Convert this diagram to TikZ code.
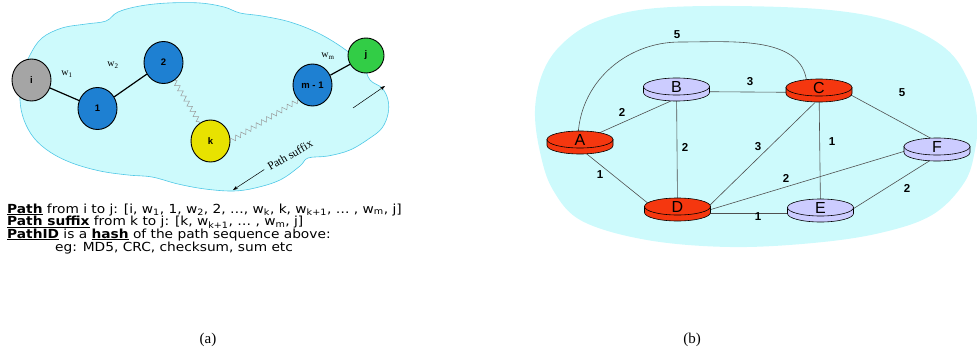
\documentclass[tikz,border=0pt]{standalone}
\usepackage{fontspec}
\setmainfont{Liberation Serif}
\setsansfont{Liberation Sans}
\newfontfamily\notefamily{DejaVu Sans}
\usetikzlibrary{shapes.geometric,decorations.pathmorphing,arrows.meta}

\pgfdeclarelayer{cloudlayer}
\pgfdeclarelayer{linklayer}
\pgfsetlayers{cloudlayer,linklayer,main}

\definecolor{cloudfill}{RGB}{205,250,252}
\definecolor{cloudline}{RGB}{80,200,230}
\definecolor{hopblue}{RGB}{30,128,210}
\definecolor{srcgray}{RGB}{165,165,165}
\definecolor{midyellow}{RGB}{232,226,0}
\definecolor{dstgreen}{RGB}{50,205,70}
\definecolor{rtred}{RGB}{245,55,15}
\definecolor{rtlav}{RGB}{204,204,255}
\definecolor{linkgray}{RGB}{80,80,80}

% router drawn as a flat cylinder: side band first, then the top disc as the node
\newcommand{\router}[5]{%
  \path[fill=#4, draw=black, line width=0.6pt]
    ({#2-33},{#3}) -- ({#2-33},{#3+6})
    arc[start angle=180, end angle=0, x radius=33, y radius=8.5]
    -- ({#2+33},{#3}) -- cycle;
  \node[rtop, fill=#4] (#1) at (#2,#3) {#5};
}
% widened note text
\newcommand{\widetext}[1]{\scalebox{1.1}[1]{#1}}

\begin{document}
\begin{tikzpicture}[x=1pt,y=-1pt,
  hop/.style={ellipse, draw=black, line width=0.9pt, minimum width=39pt,
    minimum height=42pt, inner sep=0pt, font=\sffamily\bfseries\fontsize{9.5}{9.5}\selectfont},
  hoplink/.style={line width=1.2pt, black},
  wavy/.style={decorate, decoration={zigzag, segment length=6pt, amplitude=2.4pt},
    gray!80, line width=0.5pt},
  wlabel/.style={font=\rmfamily\fontsize{10}{10}\selectfont, inner sep=0pt},
  thinarrow/.style={line width=0.5pt, -{Stealth[length=5pt,width=3.5pt]}},
  note/.style={font=\notefamily\fontsize{12.5}{12.5}\selectfont, inner sep=0pt, anchor=base west},
  rtop/.style={ellipse, draw=black, line width=0.6pt, minimum width=66pt,
    minimum height=17pt, inner sep=0pt, font=\sffamily\fontsize{16}{16}\selectfont},
  link/.style={linkgray, line width=0.6pt},
  cost/.style={font=\sffamily\bfseries\fontsize{11.5}{11.5}\selectfont, inner sep=0pt},
  caption/.style={font=\rmfamily\fontsize{15}{15}\selectfont, inner sep=0pt}]

\useasboundingbox (0,0) rectangle (977,356);

% ---------- (a) path through a cloud ----------
\begin{pgfonlayer}{cloudlayer}
\filldraw[fill=cloudfill, draw=cloudline, line width=0.6pt]
  plot[smooth cycle, tension=0.6] coordinates {
   (20,100) (22,76) (30,55) (42,38) (62,28) (86,24) (106,21) (118,12)
   (140,6) (168,3) (200,3) (224,7) (240,13) (262,16) (290,22) (318,33)
   (343,48) (362,64) (370,80) (382,88) (388,100) (388,114) (382,128)
   (370,138) (350,150) (328,156) (308,158) (300,166) (280,180) (255,188)
   (233,191) (205,189) (178,184) (152,177) (128,175) (100,171) (72,163)
   (50,152) (34,138) (24,120)};
\end{pgfonlayer}

\node[hop, fill=srcgray] (ni) at (31.5,80) {i};
\node[hop, fill=hopblue] (n1) at (97.5,108.5) {1};
\node[hop, fill=hopblue] (n2) at (163.5,62.5) {2};
\node[hop, fill=midyellow] (nk) at (210.5,141) {k};
\node[hop, fill=hopblue] (nm) at (312.5,85) {m - 1};
\node[hop, fill=dstgreen, minimum width=36pt, minimum height=35pt] (nj) at (366,55.5) {j};

\draw[hoplink] (ni) -- (n1);
\draw[hoplink] (n1) -- (n2);
\draw[hoplink] (nm) -- (nj);
\draw[wavy] (n2) -- (nk);
\draw[wavy] (nk.east) -- (nm.south west);

\node[wlabel] (w1) at (67,74) {w\textsubscript{1}};
\node[wlabel] (w2) at (113,65) {w\textsubscript{2}};
\node[wlabel] (wm) at (328,56) {w\textsubscript{m}};

\coordinate (up0) at (353,108);
\coordinate (up1) at (385,86);
\draw[thinarrow] (up0) -- (up1);

\node[font=\rmfamily\fontsize{11.5}{11.5}\selectfont, rotate=30, inner sep=0pt] (sfx) at (290,155) {Path suffix};
\coordinate (sfxend) at (233,190);
\draw[thinarrow] ([xshift=-4pt,yshift=-2pt]sfx.west) -- (sfxend);

\node[note] (l1) at (7,213) {\widetext{\underline{\textbf{Path}} from i to j: [i, w\textsubscript{1}, 1, w\textsubscript{2}, 2, …, w\textsubscript{k}, k, w\textsubscript{k+1}, … , w\textsubscript{m}, j]}};
\node[note] (l2) at (7,225.5) {\widetext{\underline{\textbf{Path suffix}} from k to j: [k, w\textsubscript{k+1}, … , w\textsubscript{m}, j]}};
\node[note] (l3) at (7,238) {\widetext{\underline{\textbf{PathID}} is a \underline{\textbf{hash}} of the path sequence above:}};
\node[note] (l4) at (55,251) {\widetext{eg: MD5, CRC, checksum, sum etc}};

\node[caption] (capa) at (208,340) {(a)};

% ---------- (b) weighted router graph ----------
\begin{pgfonlayer}{cloudlayer}
\fill[cloudfill] plot[smooth cycle, tension=0.6] coordinates {
   (535,110) (543,72) (562,44) (595,22) (647,9) (730,6) (830,10) (897,23)
   (945,48) (968,80) (977,117) (975,150) (964,183) (932,215) (880,233)
   (813,243) (730,247) (647,240) (582,221) (553,190) (540,152)};
\end{pgfonlayer}

\router{A}{580}{139.5}{rtred}{A}
\router{B}{676.5}{86.5}{rtlav}{B}
\router{C}{819}{87.5}{rtred}{C}
\router{D}{677.5}{206.5}{rtred}{D}
\router{E}{820.5}{207.5}{rtlav}{E}
\router{F}{937}{146.5}{rtlav}{F}

\coordinate (acTop) at (680,42);
\begin{pgfonlayer}{linklayer}
  \draw[link] ([xshift=-2pt]A.center) to[out=90,in=180] (acTop)
              to[out=0,in=90] ([xshift=-12pt]C.center);
  \draw[link] ([yshift=-2pt]A.center) -- ([yshift=-12pt]B.center);
  \draw[link] ([yshift=-5pt]B.center) -- ([yshift=-5pt]C.center);
  \draw[link] (B.center) -- (D.center);
  \draw[link] ([yshift=-9pt]A.center) -- ([xshift=-28pt,yshift=2pt]D.center);
  \draw[link] ([xshift=-4pt,yshift=-15pt]C.center) -- ([xshift=30pt,yshift=-1pt]D.center);
  \draw[link] (C.center) -- (E.center);
  \draw[link] ([xshift=31pt,yshift=-7pt]C.center) -- ([xshift=-2pt,yshift=6pt]F.center);
  \draw[link] ([xshift=30pt,yshift=-4pt]D.center) -- ([xshift=-30pt,yshift=-4pt]F.center);
  \draw[link] ([yshift=-7pt]D.center) -- ([yshift=-6pt]E.center);
  \draw[link] ([xshift=30pt,yshift=-3pt]E.center) -- ([xshift=-7pt,yshift=-14pt]F.center);
\end{pgfonlayer}

\node[cost] (cAC) at (677,35) {5};
\node[cost] (cAB) at (622,112) {2};
\node[cost] (cBC) at (750,82) {3};
\node[cost] (cBD) at (685,147) {2};
\node[cost] (cAD) at (600,175) {1};
\node[cost] (cCD) at (758,147) {3};
\node[cost] (cCE) at (832,142) {1};
\node[cost] (cCF) at (902,93) {5};
\node[cost] (cDF) at (786,178) {2};
\node[cost] (cDE) at (758,217) {1};
\node[cost] (cEF) at (907,188) {2};

\node[caption] (capb) at (692,340) {(b)};
\end{tikzpicture}
\end{document}
